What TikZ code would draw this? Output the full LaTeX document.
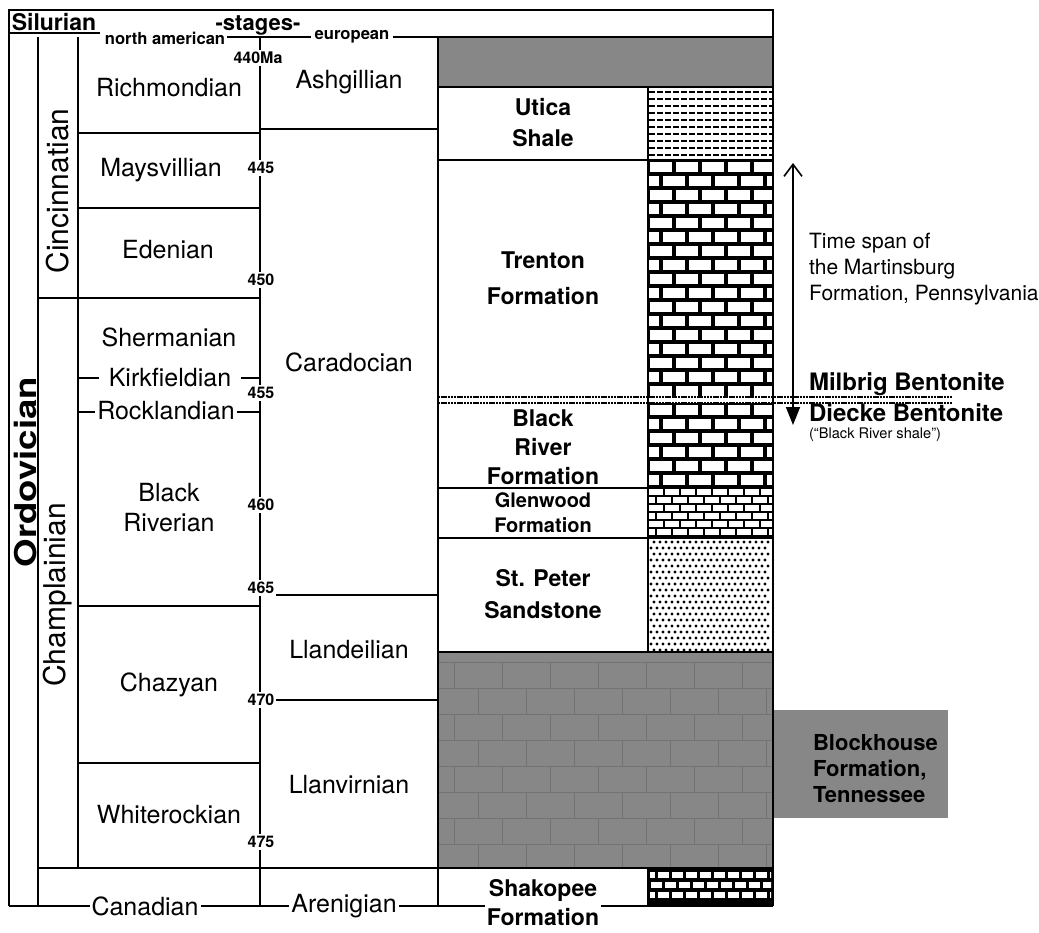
\documentclass[tikz,border=0pt]{standalone}
\usepackage{fontspec}
\setmainfont{TeX Gyre Heros}
\usetikzlibrary{arrows.meta}

\begin{document}
\begin{tikzpicture}[x=0.5pt,y=-0.5pt,
    frame/.style={line width=1.2pt},
    brick/.style={line width=1.6pt},
    faint/.style={black!55,line width=0.5pt},
    shale/.style={line width=0.8pt,dash pattern=on 3pt off 1pt},
    bentonite/.style={line width=0.9pt,dash pattern=on 1.2pt off 0.4pt},
    stage/.style={font=\fontsize{12.5}{15}\selectfont},
    series/.style={font=\fontsize{15}{17}\selectfont,rotate=90},
    fmn/.style={font=\bfseries\fontsize{11.5}{15.5}\selectfont,align=center},
    ma/.style={font=\bfseries\fontsize{8}{9}\selectfont,fill=white,inner sep=1pt},
    note/.style={font=\fontsize{10.5}{13}\selectfont,align=left}]

    \useasboundingbox (0,0) rectangle (1039,932);

    % gray layers (top box, big box, Blockhouse)
    \fill[black!47] (438,37) rectangle (773,87);
    \fill[black!47] (438,652) rectangle (773,868);
    \fill[black!47] (773,710) rectangle (948,818);
    \begin{scope}
        \clip (438,652) rectangle (773,868);
        \foreach \y [count=\r] in {662,688,...,868} {
            \draw[faint] (438,\y) -- (773,\y);
            \pgfmathsetmacro{\off}{mod(\r,2)*24}
            \foreach \x in {430,478,...,790}
                \draw[faint] ({\x+\off},\y) -- ({\x+\off},{\y+26});
        }
    \end{scope}

    % Utica shale pattern
    \foreach \y in {92,99,...,157}
        \draw[shale] (649,\y) -- (772,\y);

    % Trenton limestone
    \begin{scope}
        \clip (648,160) rectangle (773,397);
        \foreach \y [count=\r] in {160,174,...,397} {
            \draw[brick] (648,\y) -- (773,\y);
            \pgfmathsetmacro{\off}{mod(\r,2)*13}
            \foreach \x in {635,661,...,790}
                \draw[brick] ({\x+\off},\y) -- ({\x+\off},{\y+14});
        }
    \end{scope}

    % Black River limestone
    \begin{scope}
        \clip (648,403) rectangle (773,488);
        \foreach \y [count=\r] in {403,417,...,488} {
            \draw[brick] (648,\y) -- (773,\y);
            \pgfmathsetmacro{\off}{mod(\r,2)*13}
            \foreach \x in {635,661,...,790}
                \draw[brick] ({\x+\off},\y) -- ({\x+\off},{\y+14});
        }
    \end{scope}

    % Glenwood pattern
    \begin{scope}
        \clip (648,488) rectangle (773,538);
        \foreach \y [count=\r] in {488,496,...,538} {
            \draw[line width=1.4pt] (648,\y) -- (773,\y);
            \pgfmathsetmacro{\off}{mod(\r,2)*8}
            \foreach \x in {640,656,...,790}
                \draw[line width=1.4pt] ({\x+\off},\y) -- ({\x+\off},{\y+8});
        }
    \end{scope}

    % St. Peter sandstone dots
    \foreach \y [count=\r] in {542,548,...,650} {
        \pgfmathsetmacro{\off}{mod(\r,2)*3}
        \foreach \x in {651,657,...,768}
            \fill ({\x+\off},\y) circle (0.85pt);
    }

    % Shakopee dolomite
    \fill (648,868) rectangle (773,906);
    \begin{scope}
        \clip (650,868) rectangle (771,904);
        \foreach \y [count=\r] in {872,882,892} {
            \pgfmathsetmacro{\off}{mod(\r,2)*7}
            \foreach \x in {637,651,...,780}
                \fill[white] ({\x+\off},\y) rectangle ({\x+\off+11},{\y+6});
        }
    \end{scope}

    %%%%%%%%%%%%%%%%%%%%%%%%%%%%%%%%%%%%%%%%%%%%%%%%%%%%%%

    % outer frame and columns
    \draw[frame] (9,33) -- (100,33);
    \draw[frame] (9,906) -- (9,10) -- (773,10) -- (773,906);
    \draw[frame] (227,37) -- (773,37);
    \draw[frame] (38,37) -- (38,906);
    \draw[frame] (78,37) -- (78,868);
    \draw[frame] (260,37) -- (260,906);
    \draw[frame] (438,37) -- (438,906);
    \draw[frame] (648,87) -- (648,652);
    \draw[frame] (648,868) -- (648,906);
    \draw[frame] (9,906) -- (773,906);

    % stage boundaries, north american
    \draw[frame] (78,133) -- (260,133);
    \draw[frame] (78,208) -- (260,208);
    \draw[frame] (38,298) -- (260,298);
    \draw[frame] (78,378) -- (260,378);
    \draw[frame] (78,412) -- (260,412);
    \draw[frame] (78,606) -- (260,606);
    \draw[frame] (78,763) -- (260,763);
    \draw[frame] (38,868) -- (773,868);

    % stage boundaries, european
    \draw[frame] (260,129) -- (438,129);
    \draw[frame] (260,595) -- (438,595);
    \draw[frame] (260,700) -- (438,700);

    % formation boundaries
    \draw[frame] (438,87) -- (773,87);
    \draw[frame] (438,160) -- (773,160);
    \draw[frame] (438,488) -- (773,488);
    \draw[frame] (438,538) -- (773,538);
    \draw[frame] (438,652) -- (773,652);

    % bentonite beds
    \draw[bentonite] (438,397) -- (953,397);
    \draw[bentonite] (438,403) -- (953,403);

    %%%%%%%%%%%%%%%%%%%%%%%%%%%%%%%%%%%%%%%%%%%%%%%%%%%%%%

    % header
    \node[font=\bfseries\fontsize{11.5}{13}\selectfont] (silurian) at (54,22) {Silurian};
    \node[font=\bfseries\fontsize{11}{13}\selectfont] (stages) at (258,25) {-stages-};
    \node[font=\bfseries\fontsize{8.3}{10}\selectfont] (northam) at (165,38) {north american};
    \node[font=\bfseries\fontsize{8.3}{10}\selectfont,fill=white,inner xsep=2pt,inner ysep=0pt] (european) at (352,37) {european};

    % periods and series
    \node[font=\bfseries\fontsize{15}{17}\selectfont,rotate=90,inner sep=0pt] (ordovician) at (26,472) {\scalebox{1.22}[1]{Ordovician}};
    \node[series] (cincinnatian) at (58,191) {Cincinnatian};
    \node[series] (champlainian) at (58,595) {Champlainian};

    % north american stages
    \node[stage] (richmondian) at (169,88) {Richmondian};
    \node[stage] (maysvillian) at (161,170) {Maysvillian};
    \node[stage] (edenian) at (168,250) {Edenian};
    \node[stage] (shermanian) at (169,337) {Shermanian};
    \node[stage,fill=white,inner xsep=5pt,inner ysep=0pt] (kirkfieldian) at (170,378) {Kirkfieldian};
    \node[stage,fill=white,inner xsep=1pt,inner ysep=0pt] (rocklandian) at (166,411) {Rocklandian};
    \node[stage,align=center] (blackriverian) at (169,508) {Black\\Riverian};
    \node[stage] (chazyan) at (169,685) {Chazyan};
    \node[stage] (whiterockian) at (169,815) {Whiterockian};
    \node[stage,fill=white,inner xsep=1pt,inner ysep=0pt] (canadian) at (145,906) {Canadian};

    % european stages
    \node[stage] (ashgillian) at (349,82) {Ashgillian};
    \node[stage] (caradocian) at (349,362) {Caradocian};
    \node[stage] (llandeilian) at (349,650) {Llandeilian};
    \node[stage] (llanvirnian) at (349,785) {Llanvirnian};
    \node[stage,fill=white,inner xsep=1pt,inner ysep=0pt] (arenigian) at (344,906) {Arenigian};

    % ages in Ma
    \node[ma] (ma440) at (258,58) {440Ma};
    \node[ma] (ma445) at (261,168) {445};
    \node[ma] (ma450) at (261,280) {450};
    \node[ma] (ma455) at (261,393) {455};
    \node[ma] (ma460) at (261,505) {460};
    \node[ma] (ma465) at (261,588) {465};
    \node[ma] (ma470) at (261,700) {470};
    \node[ma] (ma475) at (261,842) {475};

    % formations
    \node[fmn] (utica) at (543,123) {Utica\\Shale};
    \node[fmn,font=\bfseries\fontsize{11.5}{18}\selectfont] (trenton) at (543,278) {Trenton\\Formation};
    \node[fmn,font=\bfseries\fontsize{11.5}{14.5}\selectfont] (blackriver) at (543,447) {Black\\River\\Formation};
    \node[fmn,font=\bfseries\fontsize{10}{12.5}\selectfont] (glenwood) at (543,513) {Glenwood\\Formation};
    \node[fmn,font=\bfseries\fontsize{11.5}{16}\selectfont] (stpeter) at (543,594) {St. Peter\\Sandstone};
    \node[fmn,font=\bfseries\fontsize{11.5}{14.5}\selectfont,fill=white,inner sep=1pt] (shakopee) at (543,903) {Shakopee\\Formation};
    \node[font=\bfseries\fontsize{11}{13}\selectfont,align=left,anchor=west] (blockhouse) at (806,769) {Blockhouse\\Formation,\\Tennessee};

    %%%%%%%%%%%%%%%%%%%%%%%%%%%%%%%%%%%%%%%%%%%%%%%%%%%%%%

    % Martinsburg time span
    \coordinate (spanTop) at (793,163);
    \coordinate (spanFoot) at (793,425);
    \draw[{Triangle[length=9pt,width=7pt]}-{Straight Barb[length=6pt,width=9pt]},line width=0.8pt] (spanFoot) -- (spanTop);
    \node[note,anchor=north west] (martinsburg) at (802,226) {Time span of\\the Martinsburg\\Formation, Pennsylvania};

    % bentonites
    \node[font=\bfseries\fontsize{12}{14}\selectfont,anchor=west,inner ysep=0pt] (milbrig) at (802,384) {Milbrig Bentonite};
    \node[font=\bfseries\fontsize{12}{14}\selectfont,anchor=west,inner ysep=0pt] (diecke) at (802,413) {Diecke Bentonite};
    \node[font=\fontsize{7.3}{9}\selectfont,anchor=west,inner ysep=0pt] (blackshale) at (802,435) {(``Black River shale'')};

\end{tikzpicture}
\end{document}
